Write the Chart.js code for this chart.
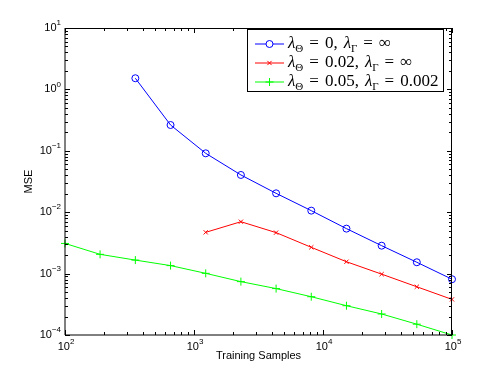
<!DOCTYPE html>
<html><head><meta charset="utf-8">
<script src="https://cdn.jsdelivr.net/npm/chart.js@4/dist/chart.umd.min.js"></script>
<style>html,body{margin:0;padding:0;background:#fff}#wrap{width:498px;height:377px;position:relative}</style>
</head><body><div id="wrap"><canvas id="c"></canvas></div>
<script>
const trainingSamples = [100, 187, 351, 658, 1233, 2310, 4329, 8111, 15199, 28480, 53367, 100000];
const mseTheta0 = [null, null, 1.52, 0.263, 0.091, 0.0404, 0.0203, 0.0106, 0.0054, 0.00285, 0.00153, 0.00081];
const mseTheta002 = [null, null, null, null, 0.0047, 0.0070, 0.00465, 0.00268, 0.00156, 0.00098, 0.00061, 0.00038];
const mseTheta005 = [0.0031, 0.00206, 0.00166, 0.00135, 0.00101, 0.00074, 0.00057, 0.00042, 0.0003, 0.00022, 0.00015, 0.0001];
const lambdaTheta = ['0', '0.02', '0.05'];
const lambdaGamma = ['\u221E', '\u221E', '0.002'];
const xDecades = [2, 3, 4, 5];
const yDecades = [-4, -3, -2, -1, 0, 1];
const xTitle = 'Training Samples';
const yTitle = 'MSE';

const colors = ['#0000ff', '#ff0000', '#00ff00'];
const styles = ['circle', 'crossRot', 'cross'];
const radii = [3.5, 3, 4];
const series = [mseTheta0, mseTheta002, mseTheta005];

const datasets = series.map((s, i) => ({
  label: 'λΘ = ' + lambdaTheta[i] + ', λΓ = ' + lambdaGamma[i],
  data: trainingSamples.map((x, j) => ({x: x, y: s[j]})).filter(p => p.y !== null),
  borderColor: colors[i], backgroundColor: 'transparent',
  pointStyle: styles[i], pointRadius: radii[i], pointBorderColor: colors[i],
  pointBorderWidth: 1, borderWidth: 1, tension: 0, clip: false, fill: false
}));

function minorTicks(decs) {
  const t = [];
  for (let d = decs[0]; d < decs[decs.length - 1]; d++)
    for (let m = 1; m <= 9; m++) t.push({value: m * Math.pow(10, d)});
  t.push({value: Math.pow(10, decs[decs.length - 1])});
  return t;
}
const SUP = '"Liberation Sans", Arial, sans-serif';

const axesPlugin = {
  id: 'matlabAxes',
  afterDatasetsDraw(chart) {
    const ctx = chart.ctx, a = chart.chartArea;
    const xs = chart.scales.x, ys = chart.scales.y;
    ctx.save();
    ctx.strokeStyle = '#000'; ctx.lineWidth = 1;
    ctx.beginPath();
    ctx.moveTo(a.left, a.top + 0.5); ctx.lineTo(a.right, a.top + 0.5);
    ctx.moveTo(a.right - 0.5, a.top); ctx.lineTo(a.right - 0.5, a.bottom);
    ctx.moveTo(a.left, a.bottom); ctx.lineTo(a.right, a.bottom);
    ctx.moveTo(a.left, a.top); ctx.lineTo(a.left, a.bottom);
    ctx.stroke();
    ctx.beginPath();
    xs.ticks.forEach(t => {
      const px = Math.round(xs.getPixelForValue(t.value)) + 0.5;
      const major = Math.abs(Math.log10(t.value) - Math.round(Math.log10(t.value))) < 1e-9;
      const len = major ? 5 : 3;
      ctx.moveTo(px, a.bottom); ctx.lineTo(px, a.bottom - len);
      ctx.moveTo(px, a.top); ctx.lineTo(px, a.top + len);
    });
    ys.ticks.forEach(t => {
      const py = Math.round(ys.getPixelForValue(t.value)) + 0.5;
      const major = Math.abs(Math.log10(t.value) - Math.round(Math.log10(t.value))) < 1e-9;
      const len = major ? 5 : 3;
      ctx.moveTo(a.left, py); ctx.lineTo(a.left + len, py);
      ctx.moveTo(a.right, py); ctx.lineTo(a.right - len, py);
    });
    ctx.stroke();
    ctx.fillStyle = '#000';
    ctx.textBaseline = 'middle';
    const baseFont = '11px ' + SUP, supFont = '8px ' + SUP;
    xDecades.forEach(d => {
      const px = xs.getPixelForValue(Math.pow(10, d));
      ctx.font = baseFont; const bw = ctx.measureText('10').width;
      const es = String(d).replace('-', '\u2212');
      ctx.font = supFont; const ew = ctx.measureText(es).width;
      const x0 = px - (bw + ew) / 2 + 1;
      ctx.font = baseFont; ctx.textAlign = 'left'; ctx.fillText('10', x0, a.bottom + 12);
      ctx.font = supFont; ctx.fillText(es, x0 + bw, a.bottom + 7);
    });
    yDecades.forEach(d => {
      const py = ys.getPixelForValue(Math.pow(10, d));
      const es = String(d).replace('-', '\u2212');
      ctx.font = supFont; const ew = ctx.measureText(es).width;
      const right = a.left - 4;
      ctx.textAlign = 'left';
      ctx.fillText(es, right - ew, py - 5);
      ctx.font = baseFont; ctx.textAlign = 'right';
      ctx.fillText('10', right - ew, py);
    });
    // legend
    const lx = 247.5, ly = 29.5, lw = 196, lh = 62;
    ctx.fillStyle = '#fff'; ctx.fillRect(lx, ly, lw, lh);
    ctx.strokeStyle = '#000'; ctx.strokeRect(lx, ly, lw, lh);
    const rows = [43.5, 62.5, 81.5];
    const ser = '"Liberation Serif", "DejaVu Serif", serif';
    const main = '17px ' + ser, ital = 'italic 17px ' + ser, sub = '11px ' + ser;
    chart.data.datasets.forEach((ds, i) => {
      const y = rows[i];
      ctx.strokeStyle = colors[i]; ctx.lineWidth = 1;
      ctx.beginPath(); ctx.moveTo(255, y + 0.5); ctx.lineTo(284, y + 0.5); ctx.stroke();
      Chart.helpers.drawPoint(ctx, {pointStyle: styles[i], radius: radii[i], borderWidth: 1}, 269.5, y + 0.5);
      ctx.fillStyle = '#000'; ctx.textAlign = 'left'; ctx.textBaseline = 'alphabetic';
      const segs = [
        ['λ', ital, 0, 0], ['Θ', sub, 4, 6], ['=', main, 0, 6], [lambdaTheta[i] + ',', main, 0, 6],
        ['λ', ital, 0, 0], ['Γ', sub, 4, 6], ['=', main, 0, 6], [lambdaGamma[i], main, 0, 0]
      ];
      let x = 288;
      segs.forEach(s => {
        ctx.font = s[1]; ctx.fillText(s[0], x, y + 4 + s[2]); x += ctx.measureText(s[0]).width + s[3];
      });
    });
    ctx.restore();
  }
};

new Chart(document.getElementById('c'), {
  type: 'line',
  data: {datasets: datasets},
  options: {
    responsive: true, maintainAspectRatio: false, animation: false,
    layout: {padding: {left: 0, right: 46, top: 28, bottom: 0}},
    plugins: {legend: {display: false}, tooltip: {enabled: false}},
    scales: {
      x: {
        type: 'logarithmic', min: 100, max: 100000,
        grid: {display: false}, border: {display: false},
        ticks: {display: false},
        afterBuildTicks: s => { s.ticks = minorTicks(xDecades); },
        afterFit: s => { s.height = 42; },
        title: {display: true, text: xTitle, color: '#000', font: {family: SUP, size: 11}, padding: {top: 0, bottom: 14}}
      },
      y: {
        type: 'logarithmic', min: 0.0001, max: 10,
        grid: {display: false}, border: {display: false},
        ticks: {display: false},
        afterBuildTicks: s => { s.ticks = minorTicks(yDecades); },
        afterFit: s => { s.width = 65; },
        title: {display: true, text: yTitle, color: '#000', font: {family: SUP, size: 11}, padding: {top: 22, bottom: 0}}
      }
    }
  },
  plugins: [axesPlugin]
});
</script></body></html>
